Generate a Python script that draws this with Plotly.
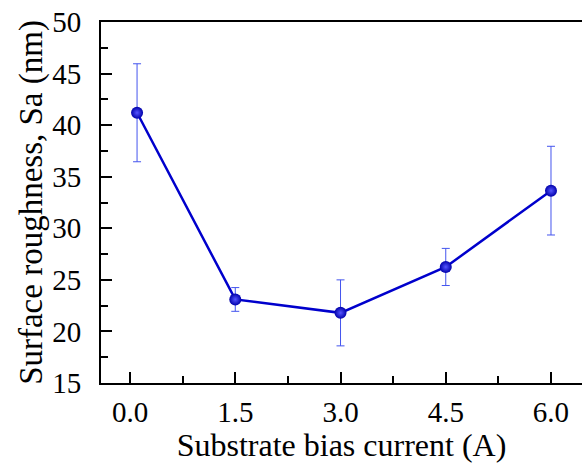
import plotly.graph_objects as go

current = [0.1, 1.5, 3.0, 4.5, 6.0]
roughness = [41.2, 23.1, 21.8, 26.25, 33.65]
err = [4.75, 1.15, 3.2, 1.8, 4.3]

font_family = "Liberation Serif"

fig = go.Figure()
fig.add_trace(go.Scatter(
    x=current, y=roughness,
    mode="lines+markers",
    line=dict(color="#0000CC", width=2.5),
    marker=dict(size=12, color="#0000AA",
                gradient=dict(type="radial", color="#5555FF"),
                line=dict(width=0)),
    error_y=dict(type="data", array=err, visible=True,
                 color="#4455EE", thickness=1, width=4),
    showlegend=False,
))

fig.update_xaxes(
    showgrid=False, zeroline=False,
    showline=True, linecolor="black", linewidth=2,
    ticks="inside", tickcolor="black", tickwidth=2, ticklen=11,
    tickfont=dict(family=font_family, size=29, color="black"),
    range=[-0.414, 6.442],
    tickmode="linear", tick0=0, dtick=1.5, tickformat=".1f",
    mirror=True,
    minor=dict(dtick=0.75, tick0=0, ticks="inside", ticklen=7, tickwidth=2, tickcolor="black", showgrid=False),
    title=dict(text="Substrate bias current (A)",
               font=dict(family=font_family, size=32, color="black"), standoff=2),
    ticklabelstandoff=2,
)
fig.update_yaxes(
    showgrid=False, zeroline=False,
    showline=True, linecolor="black", linewidth=2,
    ticks="inside", tickcolor="black", tickwidth=2, ticklen=11,
    tickfont=dict(family=font_family, size=29, color="black"),
    range=[15, 50],
    tickmode="linear", tick0=15, dtick=5,
    mirror=False,
    minor=dict(dtick=2.5, tick0=15, ticks="inside", ticklen=7, tickwidth=2, tickcolor="black", showgrid=False),
    title=dict(text="Surface roughness, Sa (nm)",
               font=dict(family=font_family, size=33, color="black"), standoff=0),
    ticklabelstandoff=12,
)

fig.update_layout(
    width=582, height=463,
    margin=dict(l=101, r=0, t=22, b=80),
    plot_bgcolor="white", paper_bgcolor="white",
)

fig.write_html("out.html")
